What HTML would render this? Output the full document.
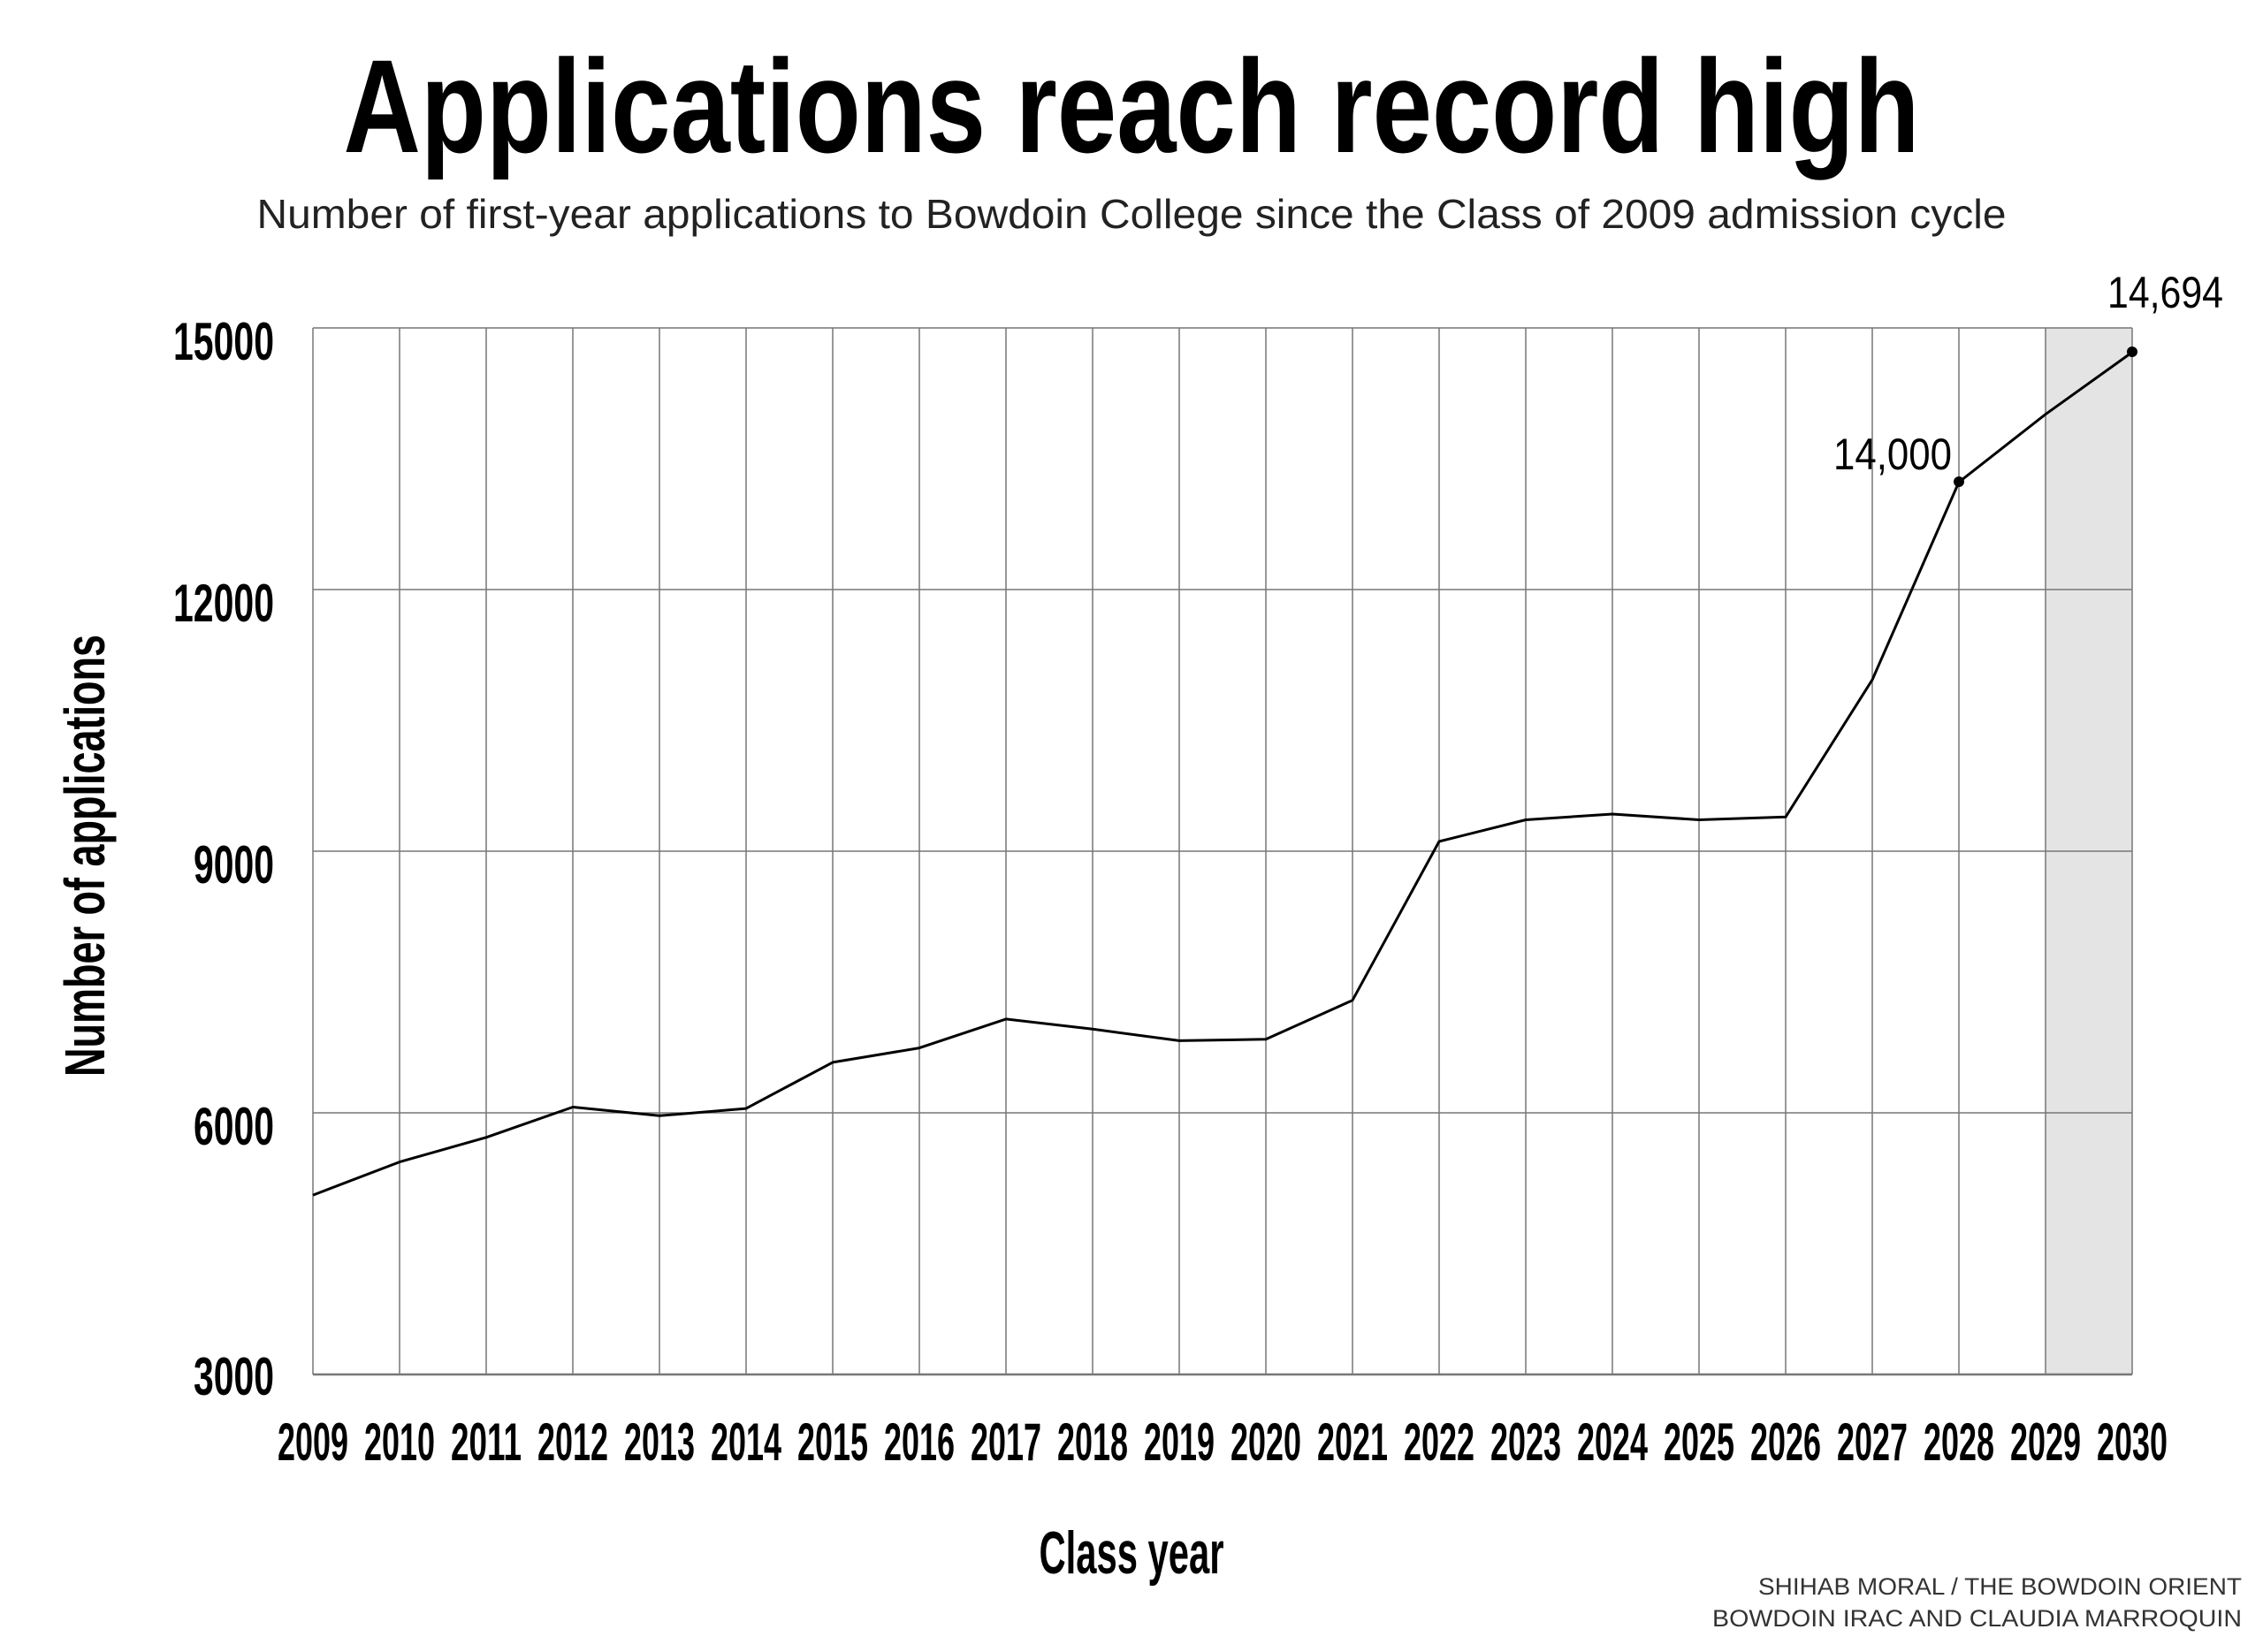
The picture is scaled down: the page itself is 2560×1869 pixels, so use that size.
<!DOCTYPE html>
<html><head><meta charset="utf-8"><style>html,body{margin:0;padding:0;background:#fff}svg{display:block}</style></head><body>
<svg width="2560" height="1869" viewBox="0 0 2560 1869" xmlns="http://www.w3.org/2000/svg" font-family="Liberation Sans, sans-serif">
<rect width="2560" height="1869" fill="#fff"/>
<text x="1280" y="172" text-anchor="middle" font-size="150" font-weight="bold" textLength="1783" lengthAdjust="spacingAndGlyphs">Applications reach record high</text>
<text x="1280" y="258" text-anchor="middle" font-size="46" textLength="1979" lengthAdjust="spacingAndGlyphs" fill="#222">Number of first-year applications to Bowdoin College since the Class of 2009 admission cycle</text>
<rect x="2314" y="371" width="98" height="1184" fill="#e4e4e4"/>
<g stroke="#777" stroke-width="1.5" fill="none">
<line x1="354" y1="371" x2="2412" y2="371"/>
<line x1="354" y1="667" x2="2412" y2="667"/>
<line x1="354" y1="963" x2="2412" y2="963"/>
<line x1="354" y1="1259" x2="2412" y2="1259"/>
<line x1="354" y1="1555" x2="2412" y2="1555" stroke-width="2.5"/>
</g>
<g id="v" stroke="#777" stroke-width="1.5"></g>
<g font-weight="bold" font-size="60" text-anchor="end">
<text x="310" y="407" textLength="114" lengthAdjust="spacingAndGlyphs">15000</text>
<text x="310" y="703" textLength="114" lengthAdjust="spacingAndGlyphs">12000</text>
<text x="310" y="999" textLength="91" lengthAdjust="spacingAndGlyphs">9000</text>
<text x="310" y="1295" textLength="91" lengthAdjust="spacingAndGlyphs">6000</text>
<text x="310" y="1578" textLength="91" lengthAdjust="spacingAndGlyphs">3000</text>
</g>
<g id="xl" font-weight="bold" font-size="60" text-anchor="middle"></g>
<polyline id="ln" fill="none" stroke="#000" stroke-width="3" stroke-linejoin="round"/>
<circle cx="2216" cy="545" r="6"/>
<circle cx="2412" cy="398" r="6"/>
<text x="2208" y="531" text-anchor="end" font-size="50" textLength="134" lengthAdjust="spacingAndGlyphs">14,000</text>
<text x="2515" y="348" text-anchor="end" font-size="50" textLength="131" lengthAdjust="spacingAndGlyphs">14,694</text>
<text transform="translate(118,968) rotate(-90)" text-anchor="middle" font-size="64" font-weight="bold" textLength="500" lengthAdjust="spacingAndGlyphs">Number of applications</text>
<text x="1280" y="1780" text-anchor="middle" font-size="68" font-weight="bold" textLength="209" lengthAdjust="spacingAndGlyphs">Class year</text>
<text x="2536" y="1804" text-anchor="end" font-size="27" fill="#333" textLength="547" lengthAdjust="spacingAndGlyphs">SHIHAB MORAL / THE BOWDOIN ORIENT</text>
<text x="2536" y="1840" text-anchor="end" font-size="27" fill="#333" textLength="599" lengthAdjust="spacingAndGlyphs">BOWDOIN IRAC AND CLAUDIA MARROQUIN</text>
<script>
var ys=[828,805,788,767,773,768,736,726,706,713,721,720,693,583,568,564,568,566,471,334,287,244];
var pts=[],v=document.getElementById('v'),xl=document.getElementById('xl'),ns='http://www.w3.org/2000/svg';
for(var i=0;i<22;i++){var x=354+i*98;pts.push(x+','+(ys[i]*1.633).toFixed(1));
var l=document.createElementNS(ns,'line');l.setAttribute('x1',x);l.setAttribute('x2',x);l.setAttribute('y1',371);l.setAttribute('y2',1555);v.appendChild(l);
var t=document.createElementNS(ns,'text');t.setAttribute('x',x);t.setAttribute('y',1652);t.setAttribute('textLength',80);t.setAttribute('lengthAdjust','spacingAndGlyphs');t.textContent=2009+i;xl.appendChild(t);}
document.getElementById('ln').setAttribute('points',pts.join(' '));
</script>
</svg>
</body></html>
